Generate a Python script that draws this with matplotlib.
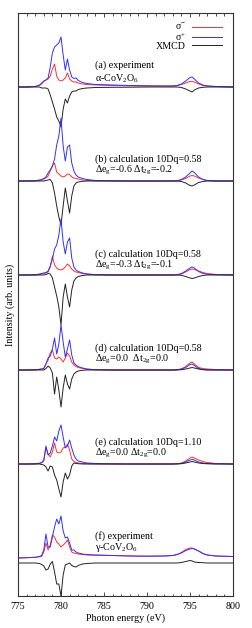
import matplotlib
matplotlib.use("Agg")
import matplotlib.pyplot as plt
from matplotlib.ticker import MultipleLocator
from matplotlib.lines import Line2D

plt.rcParams['font.family'] = ['Liberation Serif', 'DejaVu Serif']
plt.rcParams['mathtext.fontset'] = 'custom'
plt.rcParams['mathtext.rm'] = 'Liberation Serif'
plt.rcParams['mathtext.it'] = 'Liberation Serif:italic'
plt.rcParams['mathtext.bf'] = 'Liberation Serif:bold'

# ---------------- data ----------------
energy = [775, 776, 777,
          777.5, 777.75, 778, 778.25, 778.5, 778.75, 779, 779.25, 779.5, 779.75,
          780, 780.25, 780.5, 780.75, 781, 781.25, 781.5, 781.75, 782, 782.5,
          783, 784, 786, 788, 790, 792, 793, 793.5,
          794, 794.5, 795, 795.25, 795.5, 796, 796.5, 797, 798, 800]

# (a) experiment alpha-CoV2O6
sm_a = [0, 0, 0.5,
        1.5, 3, 5.5, 7, 8, 11, 18, 23, 11, 7,
        6, 7, 9, 14, 8, 6, 5, 5, 4, 3,
        2.5, 2, 1.5, 1.2, 1, 1, 1, 1.3,
        2.5, 4, 5.5, 5.5, 5, 3, 1.5, 1, 0.5, 0]
sp_a = [0, 0, 0.5,
        2, 4, 6, 7, 9, 20, 34, 40, 42, 44,
        50, 32, 17, 28, 17, 10, 8.5, 9, 6.5, 4.5,
        3.5, 2.5, 2, 1.5, 1.2, 1, 1, 1.5,
        3, 6, 9.5, 10, 8, 4, 2, 1, 0.5, 0]
xm_a = [0, 0, 0,
        0, -1, -1, -1, -2, -8, -15, -22, -30, -34,
        -40, -22, -12, -16, -9, -5, -4, -4, -2.5, -1.5,
        -1, -0.5, -0.3, -0.2, 0, 0, 0, 0,
        -0.5, -2, -4, -5, -3, -1, -0.3, 0, 0, 0]

# (b) calculation 10Dq=0.58, de_g=-0.6, dt2g=-0.2
sm_b = [0, 0, 0,
        0.5, 1, 2, 3, 5, 10, 15, 18, 9, 7,
        5, 4, 5, 7, 6.5, 4, 3, 2.5, 2, 1,
        0.5, 0.2, 0, 0, 0, 0, 0, 0,
        1, 2.5, 5, 5.5, 5, 3, 1.5, 0.5, 0, 0]
sp_b = [0, 0, 0.3,
        1, 1.5, 2.5, 4, 8, 11, 15, 22, 36, 45,
        63, 35, 20, 34, 36, 18, 10, 6, 4, 2.5,
        1.5, 0.5, 0.2, 0, 0, 0, 0, 0.3,
        1.5, 4, 8, 10, 8.5, 4, 1.5, 0.5, 0, 0]
xm_b = [0, 0, 0,
        0, 0, 0, 0.5, 1, 1.5, -2, -12, -25, -36,
        -44, -25, -7, -20, -32, -15, -5, -2, -1, -0.3,
        0, 0, 0, 0, 0, 0, 0, 0,
        -0.5, -2, -4.5, -5, -4, -1.5, -0.5, 0, 0, 0]

# (c) calculation 10Dq=0.58, de_g=-0.3, dt2g=-0.1
sm_c = [0, 0, 0,
        0.5, 1, 1.5, 2, 3, 8, 19, 10, 7, 5.5,
        5, 6, 8, 11, 9, 6, 4, 3, 2.5, 1.5,
        1, 0.3, 0, 0, 0, 0, 0, 0.3,
        1, 3, 5.5, 6, 5.5, 4, 2.5, 1.5, 0.5, 0]
sp_c = [0, 0, 0.3,
        1, 1.5, 2, 2.5, 4, 9, 16, 26, 30, 40,
        56, 33, 21, 33, 37, 17, 8, 5, 3.5, 2,
        1, 0.3, 0, 0, 0, 0, 0, 0.3,
        1.5, 4, 7, 8, 7, 3.5, 1.5, 0.8, 0.3, 0]
xm_c = [0, 0, 0,
        0, 0, 0, 0.5, 1.5, 1, -3, -12, -21, -32,
        -50, -22, -9, -22, -32, -15, -6, -3, -1.5, -0.5,
        0, 0, 0, 0, 0, 0, 0, 0,
        -0.3, -1.5, -3, -3.5, -3, -1.5, -0.5, 0, 0, 0]

# (d) calculation 10Dq=0.58, de_g=0.0, dt2g=0.0
sm_d = [0, 0, 0,
        0.7, 1, 1.5, 6, 10, 17, 20, 12, 11, 13,
        11, 8, 12, 17, 14, 8, 5, 3.5, 2.5, 1.5,
        0.8, 0.3, 0, 0, 0, 0, 0, 0.3,
        1, 3.5, 7, 8, 6, 2.5, 1.5, 1, 0.5, 0]
sp_d = [0, 0, 0.3,
        0.7, 1, 1.5, 6, 12, 14, 21, 32, 16, 26,
        45, 28, 13, 21, 30, 15, 7, 5, 3.5, 2,
        1, 0.3, 0, 0, 0, 0, 0, 0.3,
        1, 2.5, 5.5, 6, 4.5, 1.5, 0.5, 0.2, 0, 0]
xm_d = [0, 0, 0,
        0, 0, 0, 1.5, 4, 2, -3, -24, -7, -20,
        -37, -18, -5, -14, -19, -9, -4, -2, -1, -0.3,
        0, 0, 0, 0, 0, 0, 0, 0,
        0.3, 1, 2, 2.5, 2, 1, 0.3, 0, 0, 0]

# (e) calculation 10Dq=1.10, de_g=0.0, dt2g=0.0
sm_e = [0, 0, 0,
        0.5, 1, 3, 16, 10, 7, 12, 21, 12, 11,
        12, 16, 17, 20, 14, 5, 2.5, 1.5, 1, 0.5,
        0.3, 0, 0, 0, 0, 0, 0, 0.3,
        1, 3, 6, 7, 6, 4, 2.5, 1.5, 0.5, 0]
sp_e = [0, 0, 0.3,
        0.8, 1.5, 4, 18, 9, 11, 18, 27, 23, 33,
        39, 27, 16, 18, 24, 16, 9, 5, 3, 2,
        1, 0.5, 0.2, 0, 0, 0, 0, 0.2,
        0.5, 2, 4, 4.5, 4, 2, 1, 0.5, 0.2, 0]
xm_e = [0, 0, 0,
        0, -0.5, -1, -3, -7, -2, -3, -11, -16, -25,
        -33, -18, -9, -15, -11, -2, 1, 0.5, 0.3, 0,
        0, 0, 0, 0, 0, 0, 0, 0,
        0.3, 1, 2, 2.5, 2, 1, 0.5, 0.2, 0, 0]

# (f) experiment gamma-CoV2O6
sm_f = [0, 0.3, 0.7,
        1.2, 1.5, 6, 15, 8, 13, 23, 21, 16, 14,
        11, 13, 15, 18, 11, 6, 5, 4.5, 4, 3.5,
        3, 2.8, 2.5, 2, 1.8, 2, 2.5, 3.5,
        5.5, 8.5, 10, 10, 9, 7, 4.5, 3, 2, 1.5]
sp_f = [0, 0.3, 0.7,
        1.5, 2.5, 8, 24, 11, 11, 21, 31, 39, 34,
        42, 27, 20, 21, 15, 8, 8, 6, 5, 4,
        3.5, 3, 2.5, 2, 1.8, 2, 2.5, 3.5,
        5, 7.5, 9, 9.5, 9, 7, 4.5, 3, 2, 1.5]
xm_f = [0, 0, 0,
        -0.5, -1.5, -3, -7, -6, -1, 1.5, -9, -21, -21,
        -33, -12, -2, -1, 0, -2.5, -3.5, -4, -2.5, -1,
        -0.5, 0, 0, 0, 0, 0, 0, 0,
        0.5, 1.5, 2.5, 2, 1, 0.5, 0.3, 0, 0, 0]

label1 = ["(a) experiment",
          "(b) calculation 10Dq=0.58",
          "(c) calculation 10Dq=0.58",
          "(d) calculation 10Dq=0.58",
          "(e) calculation 10Dq=1.10",
          "(f) experiment"]
label2 = ["α-CoV$_\\mathrm{2}$O$_\\mathrm{6}$",
          "Δe$_\\mathrm{g}$=-0.6 Δt$_\\mathrm{2g}$=-0.2",
          "Δe$_\\mathrm{g}$=-0.3 Δt$_\\mathrm{2g}$=-0.1",
          "Δe$_\\mathrm{g}$=0.0  Δt$_\\mathrm{2g}$=0.0",
          "Δe$_\\mathrm{g}$=0.0 Δt$_\\mathrm{2g}$=0.0",
          "γ-CoV$_\\mathrm{2}$O$_\\mathrm{6}$"]
legend_labels = ["σ$^{-}$", "σ$^{+}$", "XMCD"]

# ---------------- layout / style ----------------
sigma_minus = [sm_a, sm_b, sm_c, sm_d, sm_e, sm_f]
sigma_plus = [sp_a, sp_b, sp_c, sp_d, sp_e, sp_f]
xmcd = [xm_a, xm_b, xm_c, xm_d, xm_e, xm_f]
offs_sigma = [509, 415, 321, 226, 132, 38]
offs_xmcd = [509, 415, 321, 226, 132, 33]
text_y1 = [530.5, 437, 342, 248, 154, 60]
text_y2 = [517.5, 425.5, 330.5, 237, 142.5, 48.5]

RED = "#ff3030"
BLUE = "#3030ff"
BLACK = "#222222"
LW = 0.7
FS = 7.2

W, H = 252, 628
fig = plt.figure(figsize=(W / 100, H / 100), dpi=100)
ax = fig.add_axes([18 / W, (H - 596) / H, (233 - 18) / W, (596 - 13) / H])

for i in range(6):
    sm = [v + offs_sigma[i] for v in sigma_minus[i]]
    sp = [v + offs_sigma[i] for v in sigma_plus[i]]
    xm = [v + offs_xmcd[i] for v in xmcd[i]]
    ax.plot(energy, sm, color=RED, lw=LW)
    ax.plot(energy, sp, color=BLUE, lw=LW)
    ax.plot(energy, xm, color=BLACK, lw=LW)
    ax.text(784.0, text_y1[i], label1[i], fontsize=FS, va='center', ha='left')
    ax.text(784.0, text_y2[i], label2[i], fontsize=FS, va='center', ha='left')

ax.set_xlim(775, 800)
ax.set_ylim(0, 583)
ax.xaxis.set_major_locator(MultipleLocator(5))
ax.xaxis.set_minor_locator(MultipleLocator(1))
ax.set_yticks([])
ax.tick_params(axis='x', which='both', direction='in', top=True, bottom=True,
               labelsize=FS, pad=4, width=0.6, color='#333333')
ax.tick_params(axis='x', which='major', length=3.0)
ax.tick_params(axis='x', which='minor', length=1.8)
for s in ax.spines.values():
    s.set_linewidth(0.8)
    s.set_color('#333333')

ax.set_xlabel("Photon energy (eV)", fontsize=FS, labelpad=2)
ax.set_ylabel("Intensity (arb. units)", fontsize=FS, labelpad=2)

handles = [Line2D([], [], color=RED, lw=LW),
           Line2D([], [], color=BLUE, lw=LW),
           Line2D([], [], color=BLACK, lw=LW)]
ax.legend(handles, legend_labels, loc='upper right', frameon=False,
          markerfirst=False, fontsize=FS, handlelength=3.0,
          handletextpad=0.6, labelspacing=-0.1, borderaxespad=0.0,
          borderpad=0.3, bbox_to_anchor=(0.963, 0.99))

fig.savefig("out.png", dpi=100)
